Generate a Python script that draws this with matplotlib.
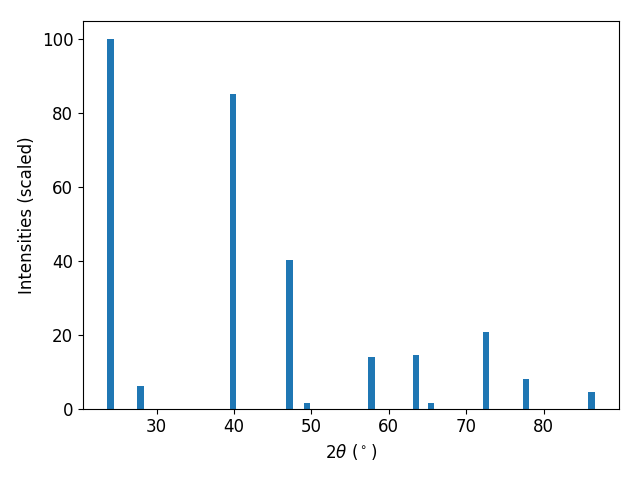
import matplotlib
matplotlib.use("Agg")
import matplotlib.pyplot as plt

two_theta = [24.02, 27.9, 39.9, 47.15, 49.4, 57.76, 63.5, 65.4, 72.55, 77.7, 86.2]
intensity = [100, 6.2, 85.2, 40.3, 1.4, 14.0, 14.6, 1.4, 20.8, 8.0, 4.5]

plt.rcParams['font.size'] = 12
fig, ax = plt.subplots(figsize=(6.4, 4.8), dpi=100)
ax.bar(two_theta, intensity, width=0.8)
ax.set_xlabel(r'$2\theta$ ($^\circ$)')
ax.set_ylabel('Intensities (scaled)')
fig.subplots_adjust(left=83/640, right=619/640, top=1-21/480, bottom=1-408.5/480)
fig.savefig('out.png')
